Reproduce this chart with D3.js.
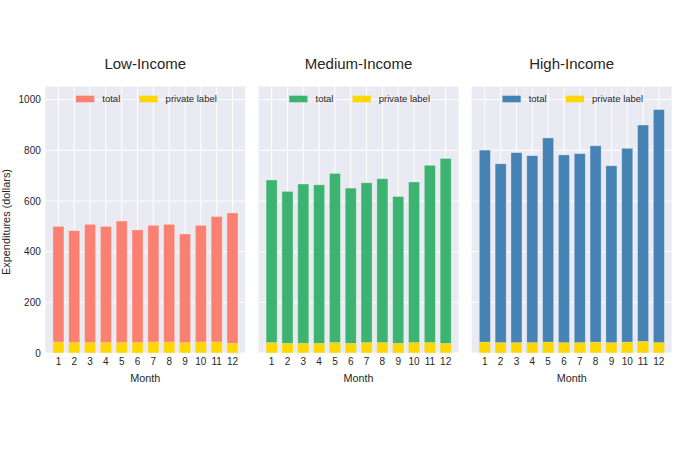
<!DOCTYPE html>
<html>
<head>
<meta charset="utf-8">
<script src="https://cdn.jsdelivr.net/npm/d3@7"></script>
<style>
  html, body { margin: 0; padding: 0; background: #fff; }
  svg { display: block; font-family: "Liberation Sans", Arial, sans-serif; }
</style>
</head>
<body>
<svg id="chart" width="680" height="453"></svg>
<script>
const months = [1,2,3,4,5,6,7,8,9,10,11,12];
const panelTitles = ["Low-Income", "Medium-Income", "High-Income"];
const totalColors = ["#FA8072", "#3CB371", "#4682B4"];
const privateColor = "#FFD700";
const seriesNames = ["total", "private label"];
const yTicks = [0, 200, 400, 600, 800, 1000];

const lowTotal     = [500, 483, 508, 500, 521, 486, 504, 508, 470, 504, 539, 553];
const lowPrivate   = [43, 41, 41, 41, 41, 41, 43, 43, 41, 43, 43, 38];
const mediumTotal  = [683, 638, 667, 664, 709, 651, 672, 688, 618, 675, 741, 768];
const mediumPrivate= [41, 38, 38, 38, 41, 38, 41, 41, 38, 41, 41, 38];
const highTotal    = [801, 747, 791, 779, 849, 782, 787, 818, 739, 808, 900, 961];
const highPrivate  = [43, 41, 41, 41, 43, 41, 41, 43, 41, 43, 46, 41];

const totals = [lowTotal, mediumTotal, highTotal];
const privates = [lowPrivate, mediumPrivate, highPrivate];

const svg = d3.select("#chart");
const panelLefts = [45.3, 258.5, 471.7];
const panelW = 200;
const plotTop = 86.5, plotBottom = 353;
const textColor = "#262626";

const y = d3.scaleLinear().domain([0, 1052]).range([plotBottom, plotTop]);

panelLefts.forEach((left, i) => {
  const x = d3.scaleLinear().domain([0.17, 12.81]).range([left, left + panelW]);
  const bw = x(1.7) - x(1);
  const g = svg.append("g");

  g.append("rect").attr("x", left).attr("y", plotTop)
    .attr("width", panelW).attr("height", plotBottom - plotTop).attr("fill", "#EAEAF2");

  // gridlines
  g.selectAll(".hg").data(yTicks).enter().append("line")
    .attr("x1", left).attr("x2", left + panelW)
    .attr("y1", d => y(d)).attr("y2", d => y(d))
    .attr("stroke", "#fff").attr("stroke-width", 1);
  g.selectAll(".vg").data(months).enter().append("line")
    .attr("x1", d => x(d)).attr("x2", d => x(d))
    .attr("y1", plotTop).attr("y2", plotBottom)
    .attr("stroke", "#fff").attr("stroke-width", 1);

  // bars
  g.selectAll(".tb").data(totals[i]).enter().append("rect")
    .attr("x", (d, j) => x(months[j]) - bw / 2)
    .attr("width", bw)
    .attr("y", d => y(d))
    .attr("height", d => y(0) - y(d))
    .attr("fill", totalColors[i])
    .attr("stroke", "#fff").attr("stroke-opacity", 0.4).attr("stroke-width", 0.8);
  g.selectAll(".pb").data(privates[i]).enter().append("rect")
    .attr("x", (d, j) => x(months[j]) - bw / 2)
    .attr("width", bw)
    .attr("y", d => y(d))
    .attr("height", d => y(0) - y(d))
    .attr("fill", privateColor)
    .attr("stroke", "#fff").attr("stroke-opacity", 0.4).attr("stroke-width", 0.8);

  // x tick labels
  g.selectAll(".xt").data(months).enter().append("text")
    .attr("x", d => x(d)).attr("y", 365.3)
    .attr("text-anchor", "middle").attr("font-size", "10px").attr("fill", textColor)
    .text(d => d);

  // x axis label
  g.append("text").attr("x", left + panelW / 2).attr("y", 381.8)
    .attr("text-anchor", "middle").attr("font-size", "10.8px").attr("fill", textColor)
    .text("Month");

  // title
  g.append("text").attr("x", left + panelW / 2).attr("y", 69.3)
    .attr("text-anchor", "middle").attr("font-size", "15px").attr("fill", textColor)
    .text(panelTitles[i]);

  // legend
  const lg = g.append("g").attr("transform", `translate(${left + 30.7},99)`);
  const legendColors = [totalColors[i], privateColor];
  const offsets = [0, 63.3];
  seriesNames.forEach((name, k) => {
    lg.append("rect").attr("x", offsets[k]).attr("y", -3.3)
      .attr("width", 18.3).attr("height", 6.6).attr("fill", legendColors[k]);
    lg.append("text").attr("x", offsets[k] + 26.3).attr("y", 3.4)
      .attr("font-size", "9.5px").attr("fill", textColor).text(name);
  });

  // y tick labels only on first panel
  if (i === 0) {
    g.selectAll(".yt").data(yTicks).enter().append("text")
      .attr("x", left - 4.5).attr("y", d => y(d) + 3.5)
      .attr("text-anchor", "end").attr("font-size", "10px").attr("fill", textColor)
      .text(d => d);
    g.append("text")
      .attr("transform", `translate(9.8,222) rotate(-90)`)
      .attr("text-anchor", "middle").attr("font-size", "10.9px").attr("fill", textColor)
      .text("Expenditures (dollars)");
  }
});
</script>
</body>
</html>
